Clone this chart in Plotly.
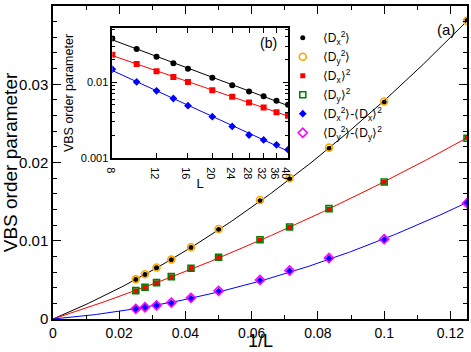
import numpy as np
import plotly.graph_objects as go

# system sizes and measured VBS order parameters
L = [8, 10, 12, 14, 16, 20, 24, 28, 32, 36, 40]
dx2 = [0.0382, 0.0277, 0.0218, 0.0179, 0.0151, 0.01145, 0.00914, 0.00756, 0.00654, 0.00568, 0.00504]
dy2 = [0.0381, 0.0278, 0.0219, 0.0180, 0.0152, 0.01150, 0.00918, 0.00760, 0.00658, 0.00572, 0.00507]
dx_sq = [0.0232, 0.01747, 0.0140, 0.01171, 0.01009, 0.00786, 0.00645, 0.00538, 0.00462, 0.00402, 0.00359]
dy_sq = [0.0231, 0.01750, 0.0141, 0.01175, 0.01012, 0.00790, 0.00648, 0.00541, 0.00465, 0.00405, 0.00362]
dx_diff = [0.0149, 0.0101, 0.0077, 0.0061, 0.0049, 0.0035, 0.0026, 0.0020, 0.00172, 0.00148, 0.00128]
dy_diff = [0.0148, 0.0102, 0.0078, 0.0062, 0.0050, 0.0036, 0.0027, 0.0021, 0.00175, 0.00150, 0.00130]

inv_L = [1.0 / l for l in L]

FONT = "Liberation Sans Narrow, Liberation Sans, Arial, sans-serif"

fig = go.Figure()

# fitted curves through the origin: y = a x + b x^2
xs = np.linspace(0, 0.125, 200)
def fit_curve(y):
    x = np.array(inv_L)
    A = np.column_stack([x, x ** 2])
    coef, *_ = np.linalg.lstsq(A, np.array(y), rcond=None)
    return coef[0] * xs + coef[1] * xs ** 2

for y, col in [(dx2, "black"), (dx_sq, "red"), (dx_diff, "blue")]:
    fig.add_trace(go.Scatter(x=xs, y=fit_curve(y), mode="lines", line=dict(color=col, width=1),
                             showlegend=False, hoverinfo="skip"))

series = [
    (dx2, "⟨D<sub>x</sub><sup>2</sup>⟩", "circle", "black", 5),
    (dy2, "⟨D<sub>y</sub><sup>2</sup>⟩", "circle-open", "#ffa500", 7),
    (dx_sq, "⟨D<sub>x</sub>⟩<sup>2</sup>", "square", "red", 5),
    (dy_sq, "⟨D<sub>y</sub>⟩<sup>2</sup>", "square-open", "#008000", 6),
    (dx_diff, "⟨D<sub>x</sub><sup>2</sup>⟩-⟨D<sub>x</sub>⟩<sup>2</sup>", "diamond", "blue", 6),
    (dy_diff, "⟨D<sub>y</sub><sup>2</sup>⟩-⟨D<sub>y</sub>⟩<sup>2</sup>", "diamond-open", "#ff00ff", 7),
]
for y, name, sym, col, size in series:
    lw = 1.6 if "open" in sym else 0
    fig.add_trace(go.Scatter(x=inv_L, y=y, mode="markers", name=name,
                             marker=dict(symbol=sym, color=col, size=size, line=dict(color=col, width=lw))))

# inset: log-log with power-law fits
Lf = np.linspace(8, 40, 50)
for y, sym, col in [(dx2, "circle", "black"), (dx_sq, "square", "red"), (dx_diff, "diamond", "blue")]:
    p = np.polyfit(np.log(L), np.log(y), 1)
    fig.add_trace(go.Scatter(x=Lf, y=np.exp(np.polyval(p, np.log(Lf))), mode="lines",
                             line=dict(color=col, width=1), xaxis="x2", yaxis="y2",
                             showlegend=False, hoverinfo="skip"))
    fig.add_trace(go.Scatter(x=L, y=y, mode="markers", marker=dict(symbol=sym, color=col, size=6),
                             xaxis="x2", yaxis="y2", showlegend=False))

axis_common = dict(showline=True, linecolor="black", linewidth=1.5, mirror="allticks",
                   ticks="inside", tickcolor="black", showgrid=False, zeroline=False)

fig.update_layout(
    width=471, height=352,
    margin=dict(l=53, r=4, t=6, b=33, autoexpand=False),
    paper_bgcolor="white", plot_bgcolor="white",
    font=dict(family=FONT, color="black"),
    xaxis=dict(range=[0, 0.125], tickvals=[0, 0.02, 0.04, 0.06, 0.08, 0.1, 0.12],
               ticktext=["0", "0.02", "0.04", "0.06", "0.08", "0.1", "0.12"],
               ticklen=8, tickwidth=1,
               minor=dict(ticks="inside", dtick=0.01, tick0=0, ticklen=4, tickcolor="black"),
               tickfont=dict(size=14), **axis_common),
    yaxis=dict(range=[0, 0.04], tickvals=[0, 0.01, 0.02, 0.03, 0.04],
               ticktext=["0", "0.01", "0.02", "0.03", "0.04"],
               ticklen=8, tickwidth=1,
               minor=dict(ticks="inside", dtick=0.002, tick0=0, ticklen=4, tickcolor="black"),
               tickfont=dict(size=15),
               title=dict(text="VBS order parameter", font=dict(size=19), standoff=5), **axis_common),
    xaxis2=dict(type="log", domain=[0.1432, 0.5676], anchor="y2",
                range=[np.log10(8), np.log10(40)],
                tickvals=[8, 12, 16, 20, 24, 28, 32, 36, 40],
                ticktext=["8", "12", "16", "20", "24", "28", "32", "36", "40"],
                ticklen=5, tickfont=dict(size=11),
                title=dict(text="L", font=dict(size=13), standoff=0), **axis_common),
    yaxis2=dict(type="log", domain=[0.5153, 0.9288], anchor="x2",
                range=[-3, np.log10(0.052)],
                tickvals=[0.001, 0.01], ticktext=["0.001", "0.01"], ticklen=5,
                minor=dict(ticks="inside", ticklen=3, tickcolor="black",
                           tickvals=[0.002, 0.003, 0.004, 0.005, 0.006, 0.007, 0.008, 0.009,
                                     0.02, 0.03, 0.04, 0.05]),
                tickfont=dict(size=11),
                title=dict(text="VBS order parameter", font=dict(size=12.5), standoff=4), **axis_common),
    legend=dict(x=0.555, y=0.945, xanchor="left", yanchor="top", bgcolor="rgba(0,0,0,0)",
                font=dict(size=12), itemsizing="trace", tracegroupgap=0),
    annotations=[
        dict(text="1/L", x=0.5, y=-0.108, xref="paper", yref="paper", showarrow=False,
             font=dict(size=18), xanchor="center", yanchor="bottom"),
        dict(text="(a)", x=0.975, y=0.96, xref="paper", yref="paper", showarrow=False,
             font=dict(size=15), xanchor="right", yanchor="top"),
        dict(text="(b)", x=0.545, y=0.915, xref="paper", yref="paper", showarrow=False,
             font=dict(size=14), xanchor="right", yanchor="top"),
    ],
)

fig.write_html("out.html", post_script="document.body.style.margin='0';",
               config={"displayModeBar": False})
